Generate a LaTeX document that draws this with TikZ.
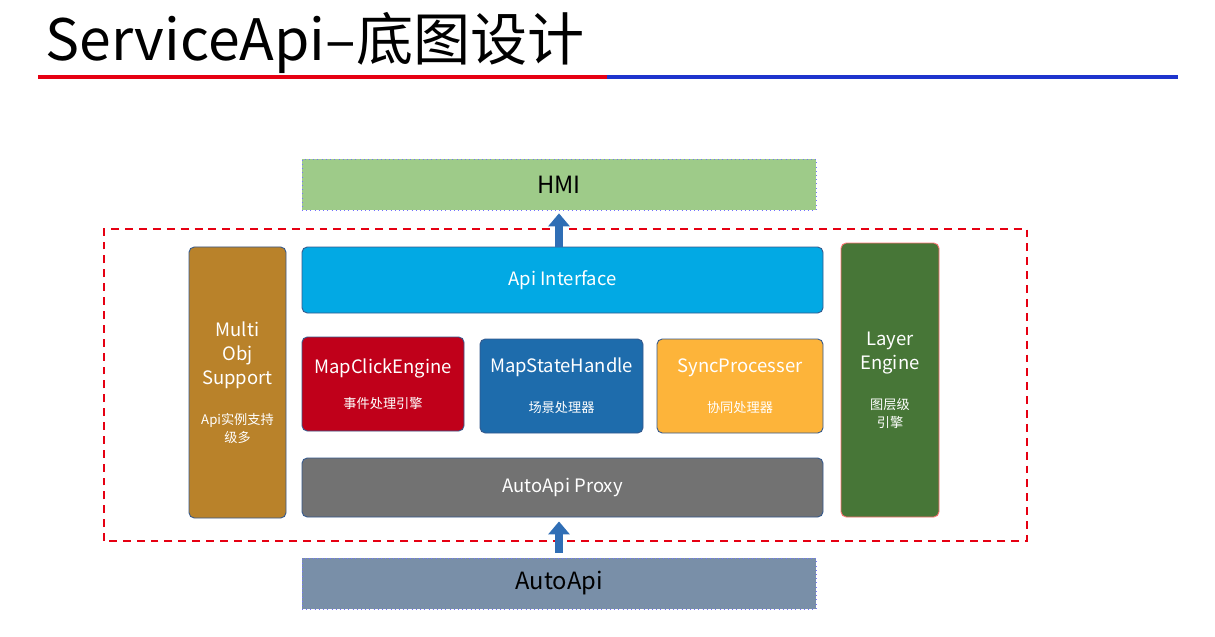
\documentclass[tikz,border=0pt]{standalone}
\usepackage{fontspec}
\setmainfont{Noto Sans CJK SC}
\usetikzlibrary{arrows.meta}

\definecolor{hmigreen}{RGB}{158,203,137}
\definecolor{apiblue}{RGB}{2,169,228}
\definecolor{clickred}{RGB}{192,0,26}
\definecolor{stateblue}{RGB}{30,108,172}
\definecolor{syncorange}{RGB}{253,180,58}
\definecolor{proxygray}{RGB}{114,114,114}
\definecolor{multibrown}{RGB}{185,130,42}
\definecolor{layergreen}{RGB}{71,118,55}
\definecolor{autoslate}{RGB}{121,143,168}
\definecolor{arrowblue}{RGB}{47,110,181}
\definecolor{edgeblue}{RGB}{52,88,140}
\definecolor{titlered}{RGB}{230,0,18}
\definecolor{titleblue}{RGB}{30,52,205}

\newcommand{\bigtxt}{\fontsize{10.5}{13.6}\selectfont}
\newcommand{\smalltxt}{\fontsize{7.5}{9.6}\selectfont}

\begin{document}
\begin{tikzpicture}[
	layer/.style={rounded corners=3pt, draw=edgeblue, line width=0.5pt, text=white,
		align=center, inner sep=0pt, font=\bigtxt},
	flat/.style={draw=blue!55, dotted, line width=0.4pt, inner sep=0pt,
		font=\fontsize{13.5}{16}\selectfont},
	uparrow/.style={arrowblue, line width=0.16cm, -{Triangle[width=0.42cm,length=0.26cm]}}
]
	\useasboundingbox (0,0) rectangle (24.3,12.72);

	% title
	\node[anchor=base west, inner sep=0pt, font=\fontsize{32.5}{38}\selectfont] (title) at (0.9,11.5) {ServiceApi–底图设计};
	\draw[titlered, line width=0.08cm] (0.76,11.18) -- (12.14,11.18);
	\draw[titleblue, line width=0.08cm] (12.14,11.18) -- (23.56,11.18);

	% outer and inner layers
	\node[flat, fill=hmigreen, minimum width=10.28cm, minimum height=1.02cm] (hmi) at (11.18,9.03) {HMI};
	\node[flat, fill=autoslate, minimum width=10.28cm, minimum height=1.02cm] (auto) at (11.18,1.05) {AutoApi};

	\draw[titlered, dashed, line width=1.1pt, dash pattern=on 4.5pt off 3.4pt] (2.08,1.90) rectangle (20.54,8.14);

	\node[layer, fill=apiblue, minimum width=10.42cm, minimum height=1.32cm] (api) at (11.25,7.12) {Api Interface};

	\node[layer, fill=clickred, minimum width=3.24cm, minimum height=1.88cm] (click) at (7.66,5.04)
		{MapClickEngine\\[6pt]\smalltxt 事件处理引擎};
	\node[layer, fill=stateblue, minimum width=3.26cm, minimum height=1.88cm] (state) at (11.23,5.0)
		{MapStateHandle\\[9pt]\smalltxt 场景处理器};
	\node[layer, fill=syncorange, minimum width=3.32cm, minimum height=1.88cm] (sync) at (14.8,5.0)
		{SyncProcesser\\[9pt]\smalltxt 协同处理器};

	\node[layer, fill=proxygray, minimum width=10.42cm, minimum height=1.18cm] (proxy) at (11.25,2.97) {AutoApi Proxy};

	\node[layer, fill=multibrown, minimum width=1.94cm, minimum height=5.42cm] (multi) at (4.75,5.07)
		{Multi\\Obj\\Support\\[9pt]\smalltxt Api实例支持\\[-3.4pt]\smalltxt 级多};
	\node[layer, draw=red!55, fill=layergreen, minimum width=1.96cm, minimum height=5.48cm] (engine) at (17.8,5.12)
		{Layer\\Engine\\[9pt]\smalltxt 图层级\\[-3.4pt]\smalltxt 引擎};

	% arrows
	\draw[uparrow, shorten >=0.06cm] (hmi.south |- api.north) -- (hmi.south);
	\draw[uparrow, shorten <=0.1cm, shorten >=0.08cm] (auto.north) -- (auto.north |- proxy.south);
\end{tikzpicture}
\end{document}
